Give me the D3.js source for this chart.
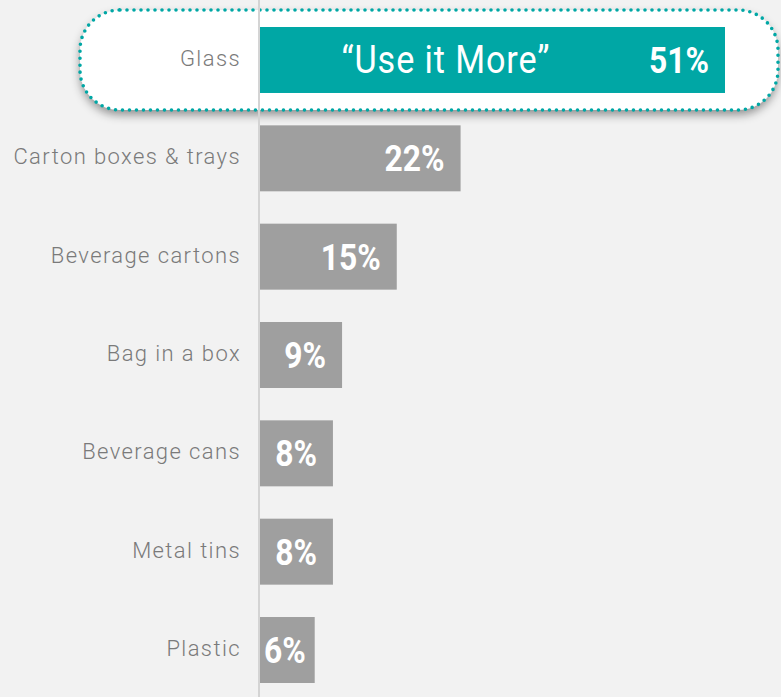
<!DOCTYPE html>
<html>
<head>
<meta charset="utf-8">
<script src="https://cdn.jsdelivr.net/npm/d3@7"></script>
<style>
  html, body { margin: 0; padding: 0; background: #f2f2f2; }
  svg { display: block; }
</style>
</head>
<body>
<svg width="781" height="697"></svg>
<script>
// packaging types, share of respondents (%)
const categories = ['Glass', 'Carton boxes & trays', 'Beverage cartons', 'Bag in a box', 'Beverage cans', 'Metal tins', 'Plastic']
const values = [51, 22, 15, 9, 8, 8, 6]
const highlight = 'Glass'
const highlightNote = '\u201CUse it More\u201D'

const rows = categories.map((c, i) => ({ name: c, value: values[i] }))

let svg = d3.select('svg')
let height = +svg.attr('height')

let x0 = 260
let x = d3.scaleLinear()
  .domain([0, d3.max(values)])
  .range([x0, 725])

let y = d3.scaleBand()
  .domain(categories)
  .range([27, 683])
  .paddingInner(0.329)
  .paddingOuter(0)

// drop shadow for the highlight box
let defs = svg.append('defs')
let f = defs.append('filter').attr('id', 'shadow')
  .attr('x', '-10%').attr('y', '-30%').attr('width', '120%').attr('height', '170%')
f.append('feDropShadow')
  .attr('dx', 0).attr('dy', 5)
  .attr('stdDeviation', 5)
  .attr('flood-color', '#000')
  .attr('flood-opacity', 0.4)

// highlight box around the top bar
let hy = y(highlight) + y.bandwidth() / 2
let box = svg.append('g')
box.append('rect')
  .attr('x', 80).attr('y', hy - 50)
  .attr('width', 698).attr('height', 100)
  .attr('rx', 40).attr('ry', 40)
  .attr('fill', '#fff')
  .attr('filter', 'url(#shadow)')
box.append('rect')
  .attr('x', 80).attr('y', hy - 50)
  .attr('width', 698).attr('height', 100)
  .attr('rx', 40).attr('ry', 40)
  .attr('fill', 'none')
  .attr('stroke', '#00a7a5')
  .attr('stroke-width', 3.6)
  .attr('stroke-linecap', 'round')
  .attr('stroke-dasharray', '0 7')

// baseline
svg.append('line')
  .attr('x1', x0 - 1).attr('x2', x0 - 1)
  .attr('y1', 0).attr('y2', height)
  .attr('stroke', '#d4d4d4')
  .attr('stroke-width', 2)

// bars
svg.selectAll('.bar')
  .data(rows)
  .enter()
  .append('rect')
  .attr('class', 'bar')
  .attr('x', x0)
  .attr('y', d => y(d.name))
  .attr('width', d => x(d.value) - x0)
  .attr('height', y.bandwidth())
  .attr('fill', d => d.name === highlight ? '#00a7a5' : '#9f9f9f')

// category labels
svg.selectAll('.cat')
  .data(rows)
  .enter()
  .append('text')
  .attr('class', 'cat')
  .attr('x', x0 - 19)
  .attr('y', d => y(d.name) + y.bandwidth() / 2 + 6)
  .attr('text-anchor', 'end')
  .attr('font-family', 'Roboto, sans-serif')
  .attr('font-weight', 300)
  .attr('font-size', 22)
  .attr('letter-spacing', 1.4)
  .attr('fill', '#7a7a7a')
  .text(d => d.name)

// value labels, squeezed a bit to look condensed
let sx = 0.86
svg.selectAll('.val')
  .data(rows)
  .enter()
  .append('text')
  .attr('class', 'val')
  .attr('text-anchor', 'start')
  .attr('font-family', 'Roboto, sans-serif')
  .attr('font-weight', 700)
  .attr('font-size', 37)
  .attr('fill', '#fff')
  .text(d => d.value + '%')
  .each(function (d) {
    let w = this.getComputedTextLength() * sx
    let pos = Math.max(x(d.value) - 16 - w, x0 + 4)
    let py = y(d.name) + y.bandwidth() / 2 + 13
    d3.select(this).attr('transform', 'translate(' + pos + ',' + py + ') scale(' + sx + ',1)')
  })

// note inside highlighted bar
svg.append('text')
  .attr('transform', 'translate(' + (x0 + (x(values[categories.indexOf(highlight)]) - x0) * 0.4) + ',' + (hy + 13) + ') scale(0.9,1)')
  .attr('text-anchor', 'middle')
  .attr('font-family', 'Roboto, sans-serif')
  .attr('font-size', 38)
  .attr('letter-spacing', 1)
  .attr('fill', '#fff')
  .text(highlightNote)
</script>
</body>
</html>
